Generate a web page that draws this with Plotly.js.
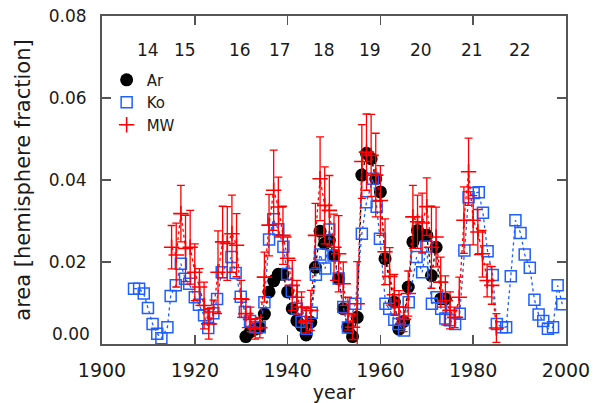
<!DOCTYPE html>
<html><head><meta charset="utf-8">
<script src="https://cdn.plot.ly/plotly-3.0.1.min.js"></script>
<style>html,body{margin:0;padding:0;background:#fff;} #chart{width:594px;height:403px;}</style>
</head><body><div id="chart"></div>
<script>
// Ko (blue open squares)
const koYears = [1906.9,1908.0,1909.0,1909.9,1910.9,1911.9,1912.8,1914.1,1914.8,1915.9,1917.0,1917.9,1918.8,
  1920.0,1920.9,1922.0,1922.9,1924.0,1924.8,1925.8,1927.9,1928.8,1929.9,1930.8,1931.9,1933.0,1934.0,1935.0,
  1936.0,1936.9,1938.0,1939.1,1939.9,1940.9,1942.0,1943.0,1944.1,1945.2,1946.1,1947.0,1948.1,1949.0,1949.9,
  1951.0,1952.0,1953.0,1954.6,1956.0,1957.0,1958.4,1959.2,1959.9,1961.1,1961.9,1963.0,1963.9,1965.1,1966.1,
  1967.8,1969.0,1969.9,1971.1,1972.2,1973.1,1974.0,1975.0,1976.1,1977.1,1978.1,1979.0,1980.1,1981.2,1982.1,
  1983.1,1984.2,1985.1,1986.2,1987.1,1988.1,1989.1,1990.2,1991.1,1992.2,1993.2,1994.1,1995.1,1996.1,1997.2,
  1998.2,1999.2];
const koArea = [0.0135,0.0135,0.0123,0.0088,0.0049,0.0025,0.0014,0.0041,0.0117,0.0143,0.0196,0.0159,0.0147,
  0.0114,0.0096,0.0070,0.0039,0.0075,0.0110,0.0175,0.0212,0.0173,0.0115,0.0078,0.0056,0.0041,0.0041,0.0102,
  0.0255,0.0304,0.0280,0.0237,0.0171,0.0129,0.0086,0.0054,0.0037,0.0076,0.0169,0.0218,0.0184,0.0279,0.0216,
  0.0160,0.0090,0.0040,0.0098,0.0269,0.0346,0.0403,0.0335,0.0257,0.0098,0.0086,0.0059,0.0049,0.0033,0.0102,
  0.0212,0.0175,0.0238,0.0098,0.0114,0.0086,0.0062,0.0058,0.0049,0.0074,0.0228,0.0358,0.0368,0.0370,0.0320,
  0.0226,0.0168,0.0049,0.0041,0.0041,0.0165,0.0302,0.0271,0.0218,0.0186,0.0108,0.0072,0.0056,0.0037,0.0041,
  0.0143,0.0097];

// Ar (black filled circles)
const arYears = [1931,1932,1933,1934,1935,1936,1937,1938,1939,1940,1941,1942,1943,1944,1945,1946,1947,1948,
  1949,1950,1951,1952,1953,1954,1955,1956,1957,1958,1959,1960,1961,1963,1964,1965,1966,1967,1968,1969,1970,
  1971,1972,1973,1974];
const arArea = [0.0018,0.0030,0.0036,0.0040,0.0073,0.0127,0.0154,0.0170,0.0170,0.0127,0.0086,0.0057,0.0045,
  0.0022,0.0053,0.0187,0.0275,0.0245,0.0253,0.0216,0.0159,0.0086,0.0041,0.0018,0.0065,0.0412,0.0465,0.0452,
  0.0403,0.0371,0.0208,0.0102,0.0036,0.0055,0.0139,0.0249,0.0277,0.0265,0.0265,0.0167,0.0236,0.0110,0.0110];

// MW (red plus with error bars)
const mwYears = [1915,1916,1917,1918,1919,1920,1921,1922,1923,1924,1925,1926,1927,1928,1929,1930,1931,1932,
  1933,1934,1935,1936,1937,1938,1939,1940,1941,1942,1943,1944,1945,1946,1947,1948,1949,1950,1951,1952,1953,
  1954,1955,1956,1957,1958,1959,1960,1961,1962,1963,1964,1965,1966,1967,1968,1969,1970,1971,1972,1973,1974,
  1975,1976,1977,1978,1979,1980,1981,1982,1983,1984,1985];
const mwArea = [0.0236,0.0217,0.0318,0.0233,0.0236,0.0175,0.0139,0.0094,0.0049,0.0078,0.0175,0.0249,0.0245,
  0.0269,0.0241,0.0110,0.0074,0.0060,0.0037,0.0040,0.0163,0.0290,0.0375,0.0334,0.0265,0.0209,0.0143,0.0114,
  0.0090,0.0057,0.0082,0.0265,0.0403,0.0338,0.0326,0.0236,0.0220,0.0147,0.0074,0.0041,0.0098,0.0445,0.0468,
  0.0460,0.0412,0.0350,0.0225,0.0165,0.0120,0.0090,0.0060,0.0123,0.0310,0.0298,0.0295,0.0335,0.0236,0.0261,
  0.0151,0.0106,0.0082,0.0065,0.0114,0.0302,0.0420,0.0302,0.0273,0.0220,0.0155,0.0143,0.0039];
const mwErr = [0.0053,0.0078,0.0069,0.0081,0.0090,0.0069,0.0045,0.0057,0.0037,0.0029,0.0101,0.0087,0.0090,
  0.0094,0.0077,0.0045,0.0034,0.0030,0.0025,0.0025,0.0061,0.0075,0.0098,0.0073,0.0071,0.0052,0.0061,0.0041,
  0.0037,0.0030,0.0049,0.0078,0.0102,0.0094,0.0085,0.0081,0.0093,0.0053,0.0040,0.0030,0.0103,0.0090,0.0093,
  0.0100,0.0102,0.0085,0.0080,0.0070,0.0050,0.0040,0.0030,0.0055,0.0077,0.0065,0.0073,0.0070,0.0100,0.0073,
  0.0061,0.0060,0.0045,0.0025,0.0049,0.0081,0.0082,0.0060,0.0055,0.0057,0.0040,0.0046,0.0035];

// solar cycle numbers at top
const cycleLabels = ['14','15','16','17','18','19','20','21','22'];
const cycleYears = [1909.9,1917.8,1929.7,1938.3,1947.8,1957.8,1968.8,1979.8,1990.1];
const cycleLabelLevel = 0.0718;

const xTicks = [1900,1920,1940,1960,1980,2000];
const yTicks = [0,0.02,0.04,0.06,0.08];
const yTickLabels = ['0.00','0.02','0.04','0.06','0.08'];

const FONT = 'DejaVu Sans, Verdana, sans-serif';
const TXT = '#1a1a1a';
const BLUE = '#1f5eff';
const RED = '#ff0000';

const traces = [
  {x: arYears, y: arArea, mode: 'lines', line: {color: '#000', dash: 'dot', width: 1.3}, showlegend: false, hoverinfo: 'skip'},
  {x: arYears, y: arArea, mode: 'markers', name: 'Ar', marker: {symbol: 'circle', size: 13, color: '#000'}},
  {x: koYears, y: koArea, mode: 'lines', line: {color: BLUE, dash: 'dot', width: 1.3}, showlegend: false, hoverinfo: 'skip'},
  {x: koYears, y: koArea, mode: 'markers', name: 'Ko', marker: {symbol: 'square-open', size: 11, color: BLUE, line: {width: 1.5, color: BLUE}}},
  {x: mwYears, y: mwArea, mode: 'lines', line: {color: RED, dash: 'dot', width: 1.3}, showlegend: false, hoverinfo: 'skip'},
  {x: mwYears, y: mwArea, mode: 'markers', name: 'MW',
   marker: {symbol: 'cross-thin-open', size: 11, color: RED, line: {width: 1.6, color: RED}},
   error_y: {type: 'data', array: mwErr, visible: true, color: RED, thickness: 1.3, width: 4}}
];

const annotations = cycleLabels.map((t, i) => ({
  x: cycleYears[i], y: cycleLabelLevel, xref: 'x', yref: 'y', text: t, showarrow: false,
  font: {family: FONT, size: 17, color: TXT}
}));
// the lowest y tick label sits raised above the axis corner, as in the original
annotations.push({
  x: 0, xref: 'paper', xanchor: 'right', xshift: -10,
  y: yTicks[0], yref: 'y', yanchor: 'middle', yshift: 10,
  text: yTickLabels[0], showarrow: false, font: {family: FONT, size: 17, color: TXT}
});

const axisCommon = {
  showline: true, linecolor: '#555', linewidth: 2, mirror: 'ticks',
  ticks: 'inside', ticklen: 9, tickwidth: 1.5, tickcolor: '#555',
  showgrid: false, zeroline: false
};

const layout = {
  width: 594, height: 403,
  margin: {l: 102, r: 28, t: 16, b: 59, pad: 0},
  paper_bgcolor: '#fff', plot_bgcolor: '#fff',
  font: {family: FONT, color: TXT},
  showlegend: true,
  legend: {x: 0.01, y: 0.855, xanchor: 'left', yanchor: 'top', bgcolor: 'rgba(0,0,0,0)',
           font: {family: FONT, size: 15, color: TXT}, itemsizing: 'trace', tracegroupgap: 0},
  xaxis: Object.assign({}, axisCommon, {range: [1900, 2000], tickvals: xTicks, ticktext: xTicks.map(String),
    tickfont: {family: FONT, size: 19, color: TXT},
    ticklabelstandoff: 8, title: {text: 'year', font: {family: FONT, size: 19, color: TXT}, standoff: 6}}),
  yaxis: Object.assign({}, axisCommon, {range: [0, 0.08], tickvals: yTicks,
    ticktext: yTickLabels.map((t, i) => i === 0 ? '' : t),
    tickfont: {family: FONT, size: 17, color: TXT},
    ticklabelstandoff: 10, title: {text: 'area [hemisphere fraction]', font: {family: FONT, size: 21, color: TXT}, standoff: 12}}),
  annotations: annotations
};

Plotly.newPlot('chart', traces, layout, {staticPlot: true, displayModeBar: false});
</script></body></html>
